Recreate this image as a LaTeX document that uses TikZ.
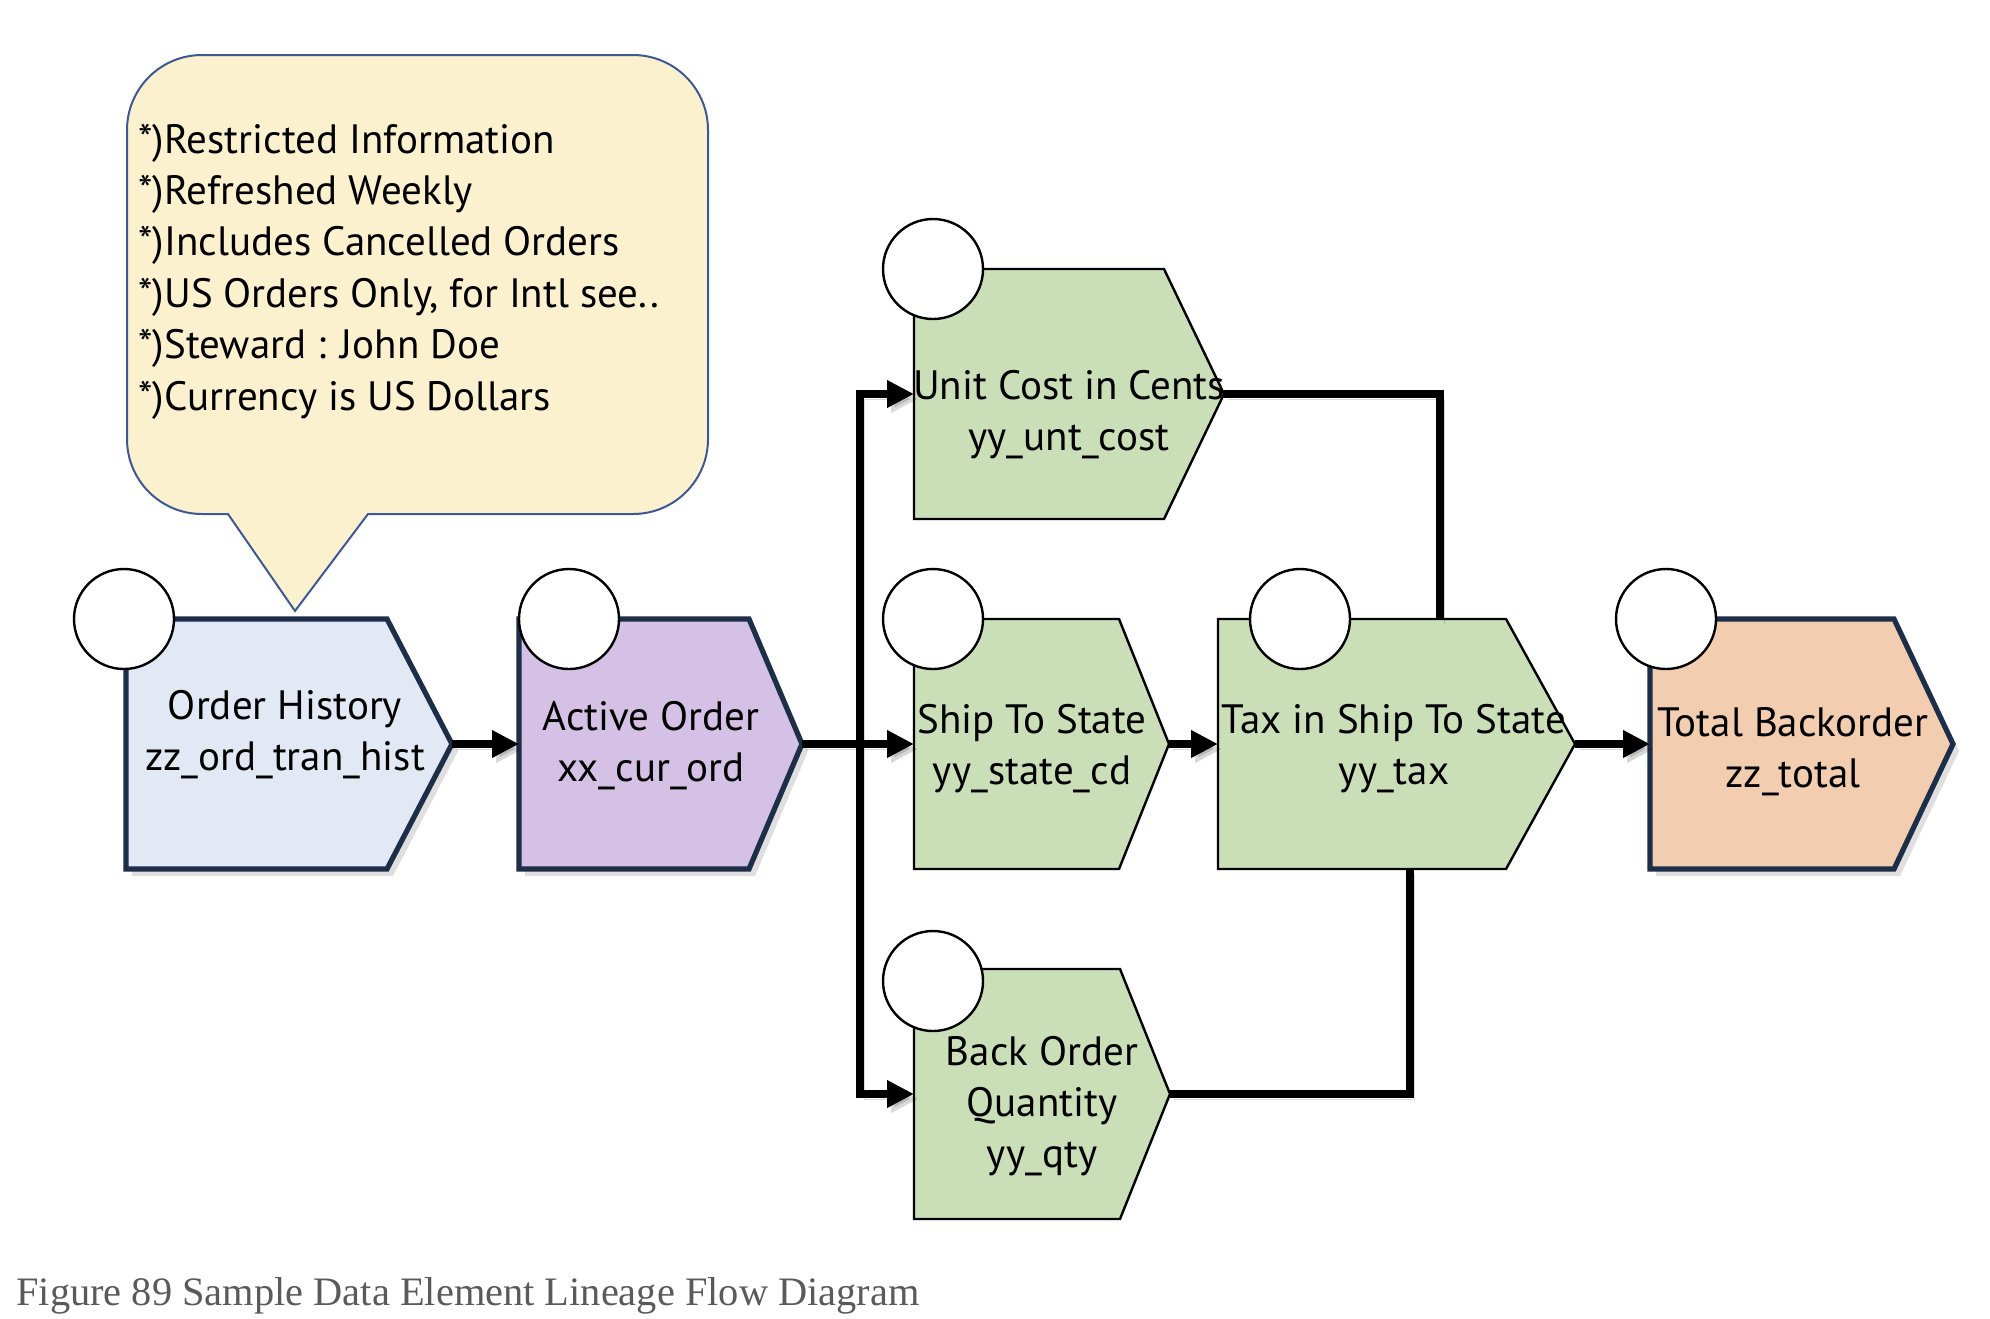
\documentclass[tikz,border=0pt]{standalone}
\usepackage{fontspec}
\setmainfont{PT Sans}
\newfontfamily\captionfont{Liberation Serif}
\usetikzlibrary{positioning, calc, arrows.meta, shadows}

\definecolor{notefill}{RGB}{252,241,207}
\definecolor{noteline}{RGB}{62,88,150}
\definecolor{histfill}{RGB}{226,233,245}
\definecolor{activefill}{RGB}{213,192,230}
\definecolor{elemfill}{RGB}{202,223,184}
\definecolor{totalfill}{RGB}{242,205,176}
\definecolor{darknavy}{RGB}{28,46,72}
\definecolor{captiongray}{RGB}{90,90,90}

% body box, pointed tip and badge of one data element
\newcommand{\lineagebox}[6]{%
  \node[body, minimum width=#3, anchor=north west] (#1) at #2 {};
  \coordinate (#1-tip) at ([xshift=#4]#1.east);
  \draw[#5] (#1.north west) -- (#1.north east) -- (#1-tip) -- (#1.south east) -- (#1.south west) -- cycle;
  \node[badge] (#1-badge) at ([shift={(#6)}]#1.north west) {};
}

\begin{document}
\begin{tikzpicture}[
        x=0.5pt, y=-0.5pt,
        body/.style={rectangle, inner sep=0pt, outer sep=0pt, minimum height=125pt},
        navybox/.style={draw=darknavy, line width=2.6pt, line join=miter,
            drop shadow={shadow xshift=3pt, shadow yshift=-3.5pt, opacity=0.25}},
        histbox/.style={navybox, fill=histfill},
        activebox/.style={navybox, fill=activefill},
        totalbox/.style={navybox, fill=totalfill},
        greenbox/.style={draw=black, fill=elemfill, line width=1.2pt, line join=miter},
        badge/.style={circle, draw=black, fill=white, line width=1.2pt, minimum size=50pt, inner sep=0pt},
        elemtext/.style={align=center, inner sep=0pt, anchor=base, font=\fontsize{20.5}{25.5}\selectfont},
        note/.style={draw=noteline, fill=notefill, line width=1pt},
        link/.style={line width=3.6pt, preaction={draw=black, opacity=0.15, transform canvas={xshift=2pt, yshift=-2.5pt}}},
        flow/.style={link, -{Triangle[length=13.5pt, width=13pt]}}
    ]
    \useasboundingbox (0,0) rectangle (1990,1318);

    % Callout with notes
    \draw[note] (295,611) -- (368,514) [rounded corners=37.5pt] -- (708,514) -- (708,55)
        -- (127,55) -- (127,514) [sharp corners] -- (228,514) -- cycle;
    \node[anchor=base west, align=left, inner sep=0pt, font=\fontsize{20.5}{25.7}\selectfont] (notes) at (138,410)
        {*)Restricted Information\\*)Refreshed Weekly\\*)Includes Cancelled Orders\\
         *)US Orders Only, for Intl see..\\*)Steward : John Doe\\*)Currency is US Dollars};

    % Data elements
    \lineagebox{hist}{(126,619)}{130.5pt}{32.5pt}{histbox}{-1pt,0pt}
    \lineagebox{active}{(519,619)}{115pt}{26.5pt}{activebox}{25pt,0pt}
    \lineagebox{unit}{(914,269)}{125pt}{30pt}{greenbox}{9.5pt,0pt}
    \lineagebox{ship}{(914,619)}{102.5pt}{25pt}{greenbox}{9.5pt,0pt}
    \lineagebox{back}{(914,969)}{103pt}{25pt}{greenbox}{9.5pt,-6pt}
    \lineagebox{tax}{(1218,619)}{144pt}{34.5pt}{greenbox}{41pt,0pt}
    \lineagebox{total}{(1650,619)}{122pt}{29.5pt}{totalbox}{8pt,0pt}

    \node[elemtext] (hist-text) at (285,770) {Order History\\zz\_ord\_tran\_hist};
    \node[elemtext] (active-text) at (651,781) {Active Order\\xx\_cur\_ord};
    \node[elemtext] (unit-text) at (1069,450) {Unit Cost in Cents\\yy\_unt\_cost};
    \node[elemtext] (ship-text) at (1032,784) {Ship To State\\yy\_state\_cd};
    \node[elemtext] (back-text) at (1042,1167) {Back Order\\Quantity\\yy\_qty};
    \node[elemtext] (tax-text) at (1394,784) {Tax in Ship To State\\yy\_tax};
    \node[elemtext] (total-text) at (1793,787) {Total Backorder\\zz\_total};

    % Lineage connectors
    \coordinate (split) at (860,745);
    \draw[flow] (hist-tip) -- (active.west);
    \draw[flow] (active-tip) -- (ship.west);
    \draw[flow] (split) |- (unit.west);
    \draw[flow] (split) |- (back.west);
    \draw[flow] (ship-tip) -- (tax.west);
    \draw[link] (unit-tip) -| ([xshift=39pt]tax.north);
    \draw[link] (back-tip) -| ([xshift=24pt]tax.south);
    \draw[flow] (tax-tip) -- (total.west);

    \node[anchor=base west, inner sep=0pt, text=captiongray, font=\captionfont\fontsize{20.2}{24}\selectfont] (caption) at (16,1305)
        {Figure 89 Sample Data Element Lineage Flow Diagram};
\end{tikzpicture}
\end{document}
